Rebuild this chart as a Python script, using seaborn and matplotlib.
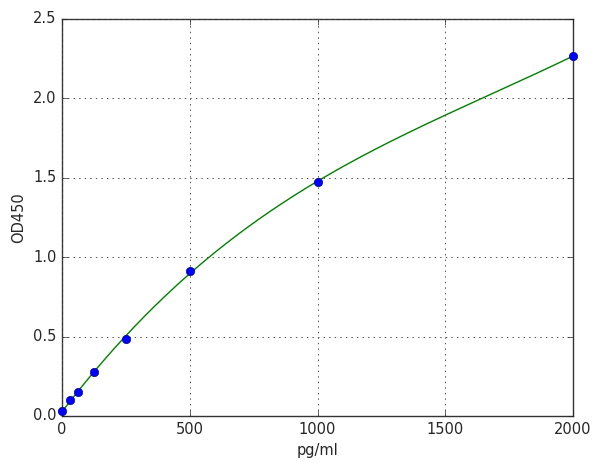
import matplotlib

matplotlib.use("Agg")
import matplotlib.pyplot as plt
import numpy as np
import pandas as pd
import seaborn as sns

conc = [0, 31.25, 62.5, 125, 250, 500, 1000, 2000]
od = [0.03, 0.10, 0.151, 0.277, 0.485, 0.915, 1.474, 2.267]

plt.style.use("classic")
plt.rcParams["font.family"] = ["DejaVu Sans"]

points = pd.DataFrame({"pg/ml": conc, "OD450": od})

# smooth standard curve fitted to the points
coef = np.polyfit(conc, od, 3)
xs = np.linspace(0, 2000, 300)
curve = pd.DataFrame({"pg/ml": xs, "OD450": np.polyval(coef, xs)})

fig = plt.figure(figsize=(5.98, 4.63), dpi=100)
ax = fig.add_axes([62 / 598, (463 - 416) / 463, (573 - 62) / 598, (416 - 19) / 463])
sns.lineplot(data=curve, x="pg/ml", y="OD450", color="green", linewidth=1.0, ax=ax)
sns.scatterplot(data=points, x="pg/ml", y="OD450", color="blue", edgecolor="navy",
                s=36, zorder=3, clip_on=False, ax=ax)
ax.set_xlim(0, 2000)
ax.set_ylim(0, 2.5)
ax.set_xticks([0, 500, 1000, 1500, 2000])
ax.set_yticks([0.0, 0.5, 1.0, 1.5, 2.0, 2.5])
ax.grid(True, linestyle=":", color="0.3", linewidth=0.7)
ax.tick_params(labelsize=10.5, direction="in", colors="0.15")
for spine in ax.spines.values():
    spine.set_color("0.2")
ax.set_xlabel("pg/ml", fontsize=10.5, color="0.15")
ax.set_ylabel("OD450", fontsize=10.5, color="0.15")

fig.savefig("out.png", dpi=100)
